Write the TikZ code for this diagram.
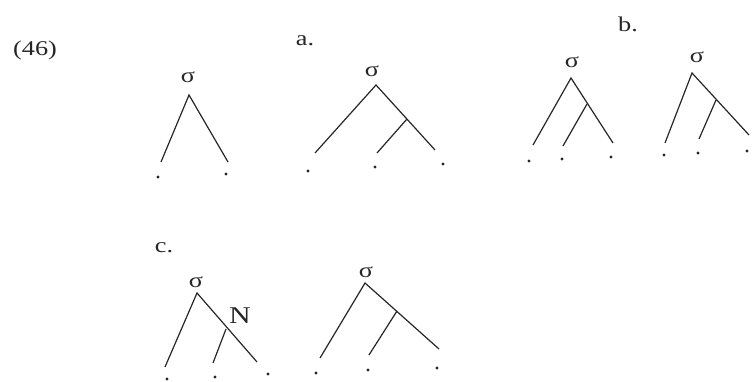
\documentclass[tikz,border=0pt]{standalone}
\usepackage{fontspec}
\setmainfont{Liberation Serif}
\begin{document}
\begin{tikzpicture}[x=1pt,y=-1pt,
  lbl/.style={inner sep=0pt,text=black!85,font=\fontsize{21}{24}\selectfont},
  leafdot/.style={circle,fill=black!85,inner sep=0pt,minimum size=3.4pt},
  branch/.style={draw=black!85,line width=1.2pt}]
\newcommand{\wide}[1]{\scalebox{1.25}[1]{#1}}
\useasboundingbox (0,0) rectangle (752,382);
% labels
\node[lbl] (n46) at (35,50) {\wide{(46)}};
\node[lbl] (la) at (305,41) {\wide{a.}};
\node[lbl] (lb) at (628,24) {\wide{b.}};
\node[lbl] (lc) at (164,248) {\wide{c.}};
% tree 0
\node[lbl] (s0) at (188,77) {\wide{σ}};
\coordinate (t0r) at (189,95);
\coordinate (t0a) at (161,162);
\coordinate (t0b) at (228,162);
\node[leafdot] (d0a) at (158,177) {};
\node[leafdot] (d0b) at (226,174) {};
\draw[branch] (t0a) -- (t0r) -- (t0b);
% tree a
\node[lbl] (sa) at (372,71) {\wide{σ}};
\coordinate (tar) at (376,85);
\coordinate (taa) at (315,153);
\coordinate (tac) at (435,150);
\coordinate (tan) at (407,119);
\coordinate (tab) at (377,153);
\node[leafdot] (daa) at (308,171) {};
\node[leafdot] (dab) at (375,167) {};
\node[leafdot] (dac) at (443,164) {};
\draw[branch] (taa) -- (tar) -- (tac);
\draw[branch] (tan) -- (tab);
% tree b1
\node[lbl] (sb1) at (572,62) {\wide{σ}};
\coordinate (b1r) at (571,78);
\coordinate (b1a) at (533,145);
\coordinate (b1c) at (613,143);
\coordinate (b1n) at (587,104);
\coordinate (b1b) at (563,146);
\node[leafdot] (db1a) at (529,161) {};
\node[leafdot] (db1b) at (562,159) {};
\node[leafdot] (db1c) at (611,157) {};
\draw[branch] (b1a) -- (b1r) -- (b1c);
\draw[branch] (b1n) -- (b1b);
% tree b2
\node[lbl] (sb2) at (697,57) {\wide{σ}};
\coordinate (b2r) at (692,73);
\coordinate (b2a) at (665,143);
\coordinate (b2c) at (749,135);
\coordinate (b2n) at (716,100);
\coordinate (b2b) at (699,139);
\node[leafdot] (db2a) at (664,155) {};
\node[leafdot] (db2b) at (698,153) {};
\node[leafdot] (db2c) at (747,151) {};
\draw[branch] (b2a) -- (b2r) -- (b2c);
\draw[branch] (b2n) -- (b2b);
% tree c1
\node[lbl] (sc1) at (196,282) {\wide{σ}};
\coordinate (c1r) at (197,293);
\coordinate (c1a) at (165,367);
\coordinate (c1c) at (257,362);
\coordinate (c1n) at (226,329);
\coordinate (c1b) at (213,363);
\node[lbl,font=\fontsize{24}{27}\selectfont] (nN) at (240,316) {\wide{N}};
\node[leafdot] (dc1a) at (167,379) {};
\node[leafdot] (dc1b) at (215,377) {};
\node[leafdot] (dc1c) at (268,374) {};
\draw[branch] (c1a) -- (c1r) -- (c1c);
\draw[branch] (c1n) -- (c1b);
% tree c2
\node[lbl] (sc2) at (366,272) {\wide{σ}};
\coordinate (c2r) at (365,283);
\coordinate (c2a) at (320,358);
\coordinate (c2c) at (439,349);
\coordinate (c2n) at (397,311);
\coordinate (c2b) at (369,355);
\node[leafdot] (dc2a) at (316,373) {};
\node[leafdot] (dc2b) at (368,370) {};
\node[leafdot] (dc2c) at (437,368) {};
\draw[branch] (c2a) -- (c2r) -- (c2c);
\draw[branch] (c2n) -- (c2b);
\end{tikzpicture}
\end{document}
